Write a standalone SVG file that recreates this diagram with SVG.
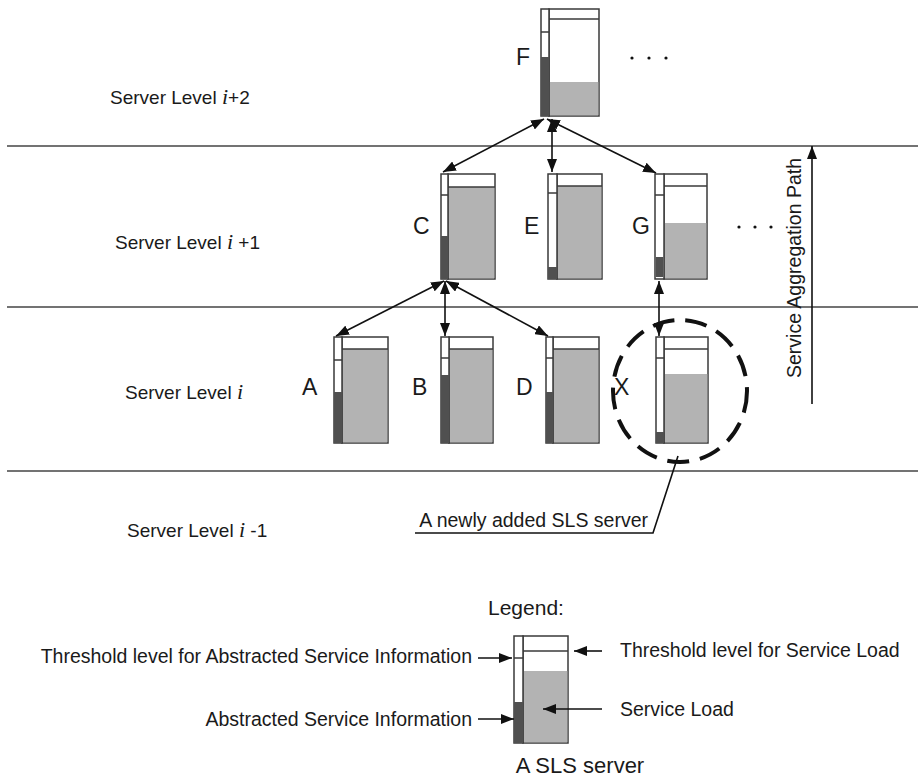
<svg xmlns="http://www.w3.org/2000/svg" width="918" height="780" viewBox="0 0 918 780">
<style>
  text { font-family: "Liberation Sans", Arial, sans-serif; fill: #1a1a1a; }
  .lvl { font-size: 19px; }
  .it { font-family: "Liberation Serif", "Times New Roman", serif; font-style: italic; font-size: 22px; }
  .lbl { font-size: 23px; }
  .txt { font-size: 19.5px; }
  .box { fill: #ffffff; stroke: #3a3a3a; stroke-width: 1.5; }
  .gray { fill: #b3b3b3; }
  .dark { fill: #505050; }
  .thr { stroke: #3a3a3a; stroke-width: 1.5; }
  .sep { stroke: #444; stroke-width: 1.5; }
  .conn { stroke: #111; stroke-width: 1.6; fill: none; }
  .dot { fill: #111; }
</style>
<defs>
  <marker id="ah" markerUnits="userSpaceOnUse" markerWidth="13" markerHeight="10" refX="13" refY="5" orient="auto-start-reverse">
    <path d="M0,0 L13,5 L0,10 z" fill="#111"/>
  </marker>
</defs>

<!-- level separators -->
<g id="levels">
  <line class="sep" x1="7" y1="146" x2="918" y2="146"/>
  <line class="sep" x1="7" y1="307" x2="918" y2="307"/>
  <line class="sep" x1="7" y1="471" x2="918" y2="471"/>
  <text class="lvl" x="110" y="104">Server Level <tspan class="it">i</tspan>+2</text>
  <text class="lvl" x="115" y="249">Server Level <tspan class="it">i</tspan> +1</text>
  <text class="lvl" x="125" y="399">Server Level <tspan class="it">i</tspan></text>
  <text class="lvl" x="127" y="537">Server Level <tspan class="it">i</tspan> -1</text>
</g>

<!-- server F -->
<g id="F">
  <rect class="box" x="549" y="9" width="50" height="107"/>
  <rect class="gray" x="549.8" y="82" width="48.5" height="33.3"/>
  <line class="thr" x1="549" y1="19" x2="599" y2="19"/>
  <rect class="box" x="541" y="9" width="8" height="107"/>
  <rect class="dark" x="541" y="57" width="8" height="59"/>
  <line class="thr" x1="541" y1="32" x2="549" y2="32"/>
  <text class="lbl" x="516" y="65">F</text>
</g>

<!-- server C -->
<g id="C">
  <rect class="box" x="448" y="174" width="47" height="105"/>
  <rect class="gray" x="448.8" y="187" width="45.5" height="91.3"/>
  <line class="thr" x1="448" y1="187" x2="495" y2="187"/>
  <rect class="box" x="441" y="174" width="7" height="105"/>
  <rect class="dark" x="441" y="236" width="7" height="43"/>
  <line class="thr" x1="441" y1="195" x2="448" y2="195"/>
  <text class="lbl" x="413" y="234">C</text>
</g>

<!-- server E -->
<g id="E">
  <rect class="box" x="557" y="174" width="45" height="105"/>
  <rect class="gray" x="557.8" y="186" width="43.5" height="92.3"/>
  <line class="thr" x1="557" y1="186" x2="602" y2="186"/>
  <rect class="box" x="548" y="174" width="9" height="105"/>
  <rect class="dark" x="548" y="267" width="9" height="12"/>
  <line class="thr" x1="548" y1="193" x2="557" y2="193"/>
  <text class="lbl" x="524" y="234">E</text>
</g>

<!-- server G -->
<g id="G">
  <rect class="box" x="664" y="174" width="43" height="105"/>
  <rect class="gray" x="664.8" y="223" width="41.5" height="55.3"/>
  <line class="thr" x1="664" y1="186" x2="707" y2="186"/>
  <rect class="box" x="655" y="174" width="9" height="105"/>
  <rect class="dark" x="655.8" y="257" width="7.5" height="20"/>
  <line class="thr" x1="655" y1="195" x2="664" y2="195"/>
  <text class="lbl" x="632" y="234">G</text>
</g>

<!-- server A -->
<g id="A">
  <rect class="box" x="342" y="337" width="46" height="106"/>
  <rect class="gray" x="342.8" y="349" width="44.5" height="93.3"/>
  <line class="thr" x1="342" y1="349" x2="388" y2="349"/>
  <rect class="box" x="334" y="337" width="8" height="106"/>
  <rect class="dark" x="334" y="392" width="8" height="51"/>
  <line class="thr" x1="334" y1="360" x2="342" y2="360"/>
  <text class="lbl" x="302" y="395">A</text>
</g>

<!-- server B -->
<g id="B">
  <rect class="box" x="449" y="337" width="44" height="106"/>
  <rect class="gray" x="449.8" y="349" width="42.5" height="93.3"/>
  <line class="thr" x1="449" y1="349" x2="493" y2="349"/>
  <rect class="box" x="441" y="337" width="8" height="106"/>
  <rect class="dark" x="441" y="375" width="8" height="68"/>
  <line class="thr" x1="441" y1="358" x2="449" y2="358"/>
  <text class="lbl" x="412" y="395">B</text>
</g>

<!-- server D -->
<g id="D">
  <rect class="box" x="553" y="337" width="46" height="106"/>
  <rect class="gray" x="553.8" y="349" width="44.5" height="93.3"/>
  <line class="thr" x1="553" y1="349" x2="599" y2="349"/>
  <rect class="box" x="546" y="337" width="7" height="106"/>
  <rect class="dark" x="546" y="392" width="7" height="51"/>
  <line class="thr" x1="546" y1="358" x2="553" y2="358"/>
  <text class="lbl" x="516" y="395">D</text>
</g>

<!-- server X -->
<g id="X">
  <rect class="box" x="664" y="337" width="44" height="106"/>
  <rect class="gray" x="664.8" y="374" width="42.5" height="68.3"/>
  <line class="thr" x1="664" y1="349" x2="708" y2="349"/>
  <rect class="box" x="656" y="337" width="8" height="106"/>
  <rect class="dark" x="656" y="432" width="8" height="11"/>
  <line class="thr" x1="656" y1="358" x2="664" y2="358"/>
  <text class="lbl" x="614" y="395">X</text>
  <ellipse cx="680" cy="391" rx="67" ry="71" fill="none" stroke="#111" stroke-width="4" stroke-dasharray="22 11"/>
</g>

<!-- connectors -->
<g id="connectors">
  <line class="conn" x1="443" y1="172" x2="544" y2="119" marker-start="url(#ah)" marker-end="url(#ah)"/>
  <line class="conn" x1="552" y1="172" x2="552" y2="119" marker-start="url(#ah)" marker-end="url(#ah)"/>
  <line class="conn" x1="656" y1="173" x2="547" y2="119" marker-start="url(#ah)" marker-end="url(#ah)"/>
  <line class="conn" x1="336" y1="336" x2="444" y2="281" marker-start="url(#ah)" marker-end="url(#ah)"/>
  <line class="conn" x1="445" y1="336" x2="445" y2="281" marker-start="url(#ah)" marker-end="url(#ah)"/>
  <line class="conn" x1="548" y1="336" x2="446" y2="281" marker-start="url(#ah)" marker-end="url(#ah)"/>
  <line class="conn" x1="659" y1="336" x2="659" y2="281" marker-start="url(#ah)" marker-end="url(#ah)"/>
  <line class="conn" x1="812" y1="404" x2="812" y2="146" marker-end="url(#ah)"/>
  <polyline class="conn" points="415,533 653,533 678,456"/>
</g>

<g id="annotations">
  <text class="txt" x="0" y="0" transform="translate(801,378) rotate(-90)">Service Aggregation Path</text>
  <text class="txt" x="648" y="527" text-anchor="end">A newly added SLS server</text>
  <circle class="dot" cx="632" cy="58" r="1.6"/>
  <circle class="dot" cx="649" cy="58" r="1.6"/>
  <circle class="dot" cx="666" cy="58" r="1.6"/>
  <circle class="dot" cx="739" cy="227" r="1.6"/>
  <circle class="dot" cx="755" cy="227" r="1.6"/>
  <circle class="dot" cx="771" cy="227" r="1.6"/>
</g>

<!-- legend -->
<g id="legend">
  <text class="txt" x="488" y="615" style="font-size:21px">Legend:</text>
  <rect class="box" x="523" y="636" width="45" height="107"/>
  <rect class="gray" x="523.8" y="671" width="43.5" height="71.3"/>
  <line class="thr" x1="523" y1="651" x2="568" y2="651"/>
  <rect class="box" x="514" y="636" width="9" height="107"/>
  <rect class="dark" x="514" y="702" width="9" height="41"/>
  <line class="thr" x1="514" y1="658" x2="523" y2="658"/>
  <line class="conn" x1="478" y1="658" x2="512" y2="658" marker-end="url(#ah)"/>
  <line class="conn" x1="478" y1="719" x2="514" y2="719" marker-end="url(#ah)"/>
  <line class="conn" x1="602" y1="651" x2="574" y2="651" marker-end="url(#ah)"/>
  <line class="conn" x1="602" y1="709" x2="543" y2="709" marker-end="url(#ah)"/>
  <text class="txt" x="472" y="663" text-anchor="end">Threshold level for Abstracted Service Information</text>
  <text class="txt" x="472" y="726" text-anchor="end">Abstracted Service Information</text>
  <text class="txt" x="620" y="657">Threshold level for Service Load</text>
  <text class="txt" x="620" y="716">Service Load</text>
  <text class="txt" x="580" y="773" text-anchor="middle" style="font-size:22px">A SLS server</text>
</g>
</svg>
